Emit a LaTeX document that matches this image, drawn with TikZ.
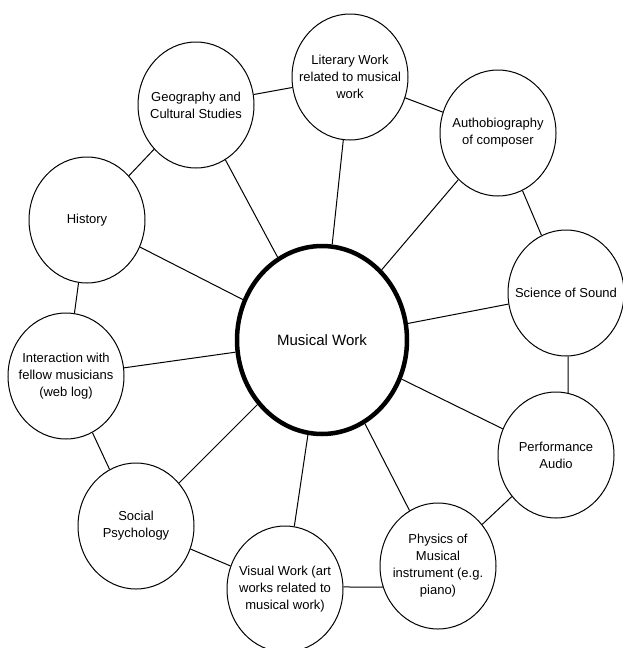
\documentclass[tikz,border=0pt]{standalone}
\usepackage{fontspec}
\setmainfont{Liberation Sans}
\usetikzlibrary{shapes.geometric}
\tikzset{
  bub/.style={ellipse, draw, line width=1pt, minimum width=116pt, minimum height=126pt, inner sep=0pt},
  txt/.style={align=center, font=\fontsize{13}{17}\selectfont, inner sep=0pt},
  link/.style={line width=1pt}
}
\begin{document}
\begin{tikzpicture}[x=1pt,y=-1pt]
\useasboundingbox (0,0) rectangle (623,648);
\node[ellipse, draw, line width=4.5pt, minimum width=170pt, minimum height=188pt, inner sep=0pt,
      label={[txt,font=\fontsize{15}{18}\selectfont]center:{Musical Work}}] (mus) at (322,340) {};
\node[bub, label={[txt]center:{Literary Work\\related to musical\\work}}] (lit) at (350,77) {};
\node[bub, label={[txt]center:{Geography and\\Cultural Studies}}] (geo) at (196,105) {};
\node[bub, label={[txt]center:{Authobiography\\of composer}}] (aut) at (498,133) {};
\node[bub, label={[txt]center:{History}}] (his) at (87,220) {};
\node[bub, label={[txt]center:{Science of Sound}}] (sci) at (566,293) {};
\node[bub, label={[txt]center:{Interaction with\\fellow musicians\\(web log)}}] (int) at (66,376) {};
\node[bub, label={[txt]center:{Performance\\Audio}}] (per) at (556,455) {};
\node[bub, label={[txt]center:{Social\\Psychology}}] (soc) at (136,526) {};
\node[bub, label={[txt]center:{Physics of\\Musical\\instrument (e.g.\\piano)}}] (phy) at (438,566) {};
\node[bub, label={[txt]center:{Visual Work (art\\works related to\\musical work)}}] (vis) at (285,589) {};
\draw[link] (geo) -- (lit);
\draw[link] (lit) -- (aut);
\draw[link] (geo) -- (his);
\draw[link] (aut) -- (sci);
\draw[link] (his) -- (int);
\draw[link] (sci.-88) -- (per.79);
\draw[link] (int) -- (soc);
\draw[link] (per) -- (phy);
\draw[link] (soc) -- (vis);
\draw[link] (vis.2) -- (phy.201);
\draw[link] (geo) -- (mus);
\draw[link] (lit) -- (mus);
\draw[link] (aut) -- (mus);
\draw[link] (his) -- (mus);
\draw[link] (sci) -- (mus);
\draw[link] (int) -- (mus);
\draw[link] (per) -- (mus);
\draw[link] (soc) -- (mus);
\draw[link] (vis) -- (mus);
\draw[link] (phy) -- (mus);
\end{tikzpicture}
\end{document}
